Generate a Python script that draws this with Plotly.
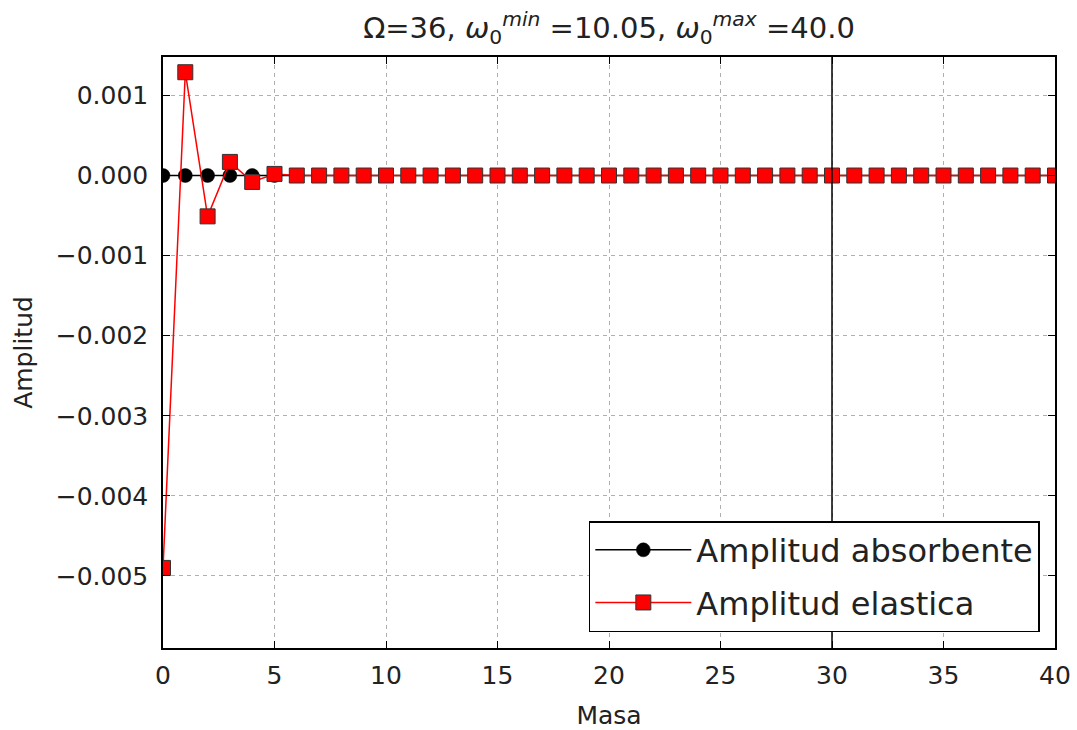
import plotly.graph_objects as go

masa = list(range(41))
amp_absorbente = [0.0] * 41
amp_elastica = [-0.0049, 0.00129, -0.00051, 0.00017, -0.00008, 0.00002] + [0.0] * 35

x_ticks = [0, 5, 10, 15, 20, 25, 30, 35, 40]
y_ticks = [-0.005, -0.004, -0.003, -0.002, -0.001, 0.0, 0.001]
vline_x = 30

font = "DejaVu Sans"

fig = go.Figure()
fig.add_trace(go.Scatter(
    x=masa, y=amp_absorbente, mode="lines+markers", name="Amplitud absorbente",
    line=dict(color="black", width=1.5),
    marker=dict(symbol="circle", size=14, color="black", line=dict(color="black", width=0.5)),
    legendgroup="a",
))
fig.add_trace(go.Scatter(
    x=masa, y=amp_elastica, mode="lines+markers", name="Amplitud elastica",
    line=dict(color="red", width=1.5),
    marker=dict(symbol="square", size=15, color="red", line=dict(color="#333333", width=1)),
    legendgroup="b",
))

fig.add_shape(type="line", x0=vline_x, x1=vline_x, y0=0, y1=1, xref="x", yref="paper",
              line=dict(color="black", width=1.5))

axis_common = dict(
    showline=True, linecolor="black", linewidth=1.5, mirror="allticks",
    ticks="inside", ticklen=7, tickwidth=1, tickcolor="black",
    showgrid=True, gridcolor="#b0b0b0", gridwidth=1, griddash="4px,4px",
    zeroline=False, automargin=False,
    tickfont=dict(family=font, size=25, color="#222222"),
)

fig.update_xaxes(range=[0, 40], tickvals=x_ticks, ticklabelstandoff=4,
                 title=dict(text="Masa", font=dict(family=font, size=25, color="#222222"), standoff=18),
                 **axis_common)
fig.update_yaxes(range=[-0.0059, 0.00148], tickvals=y_ticks, tickformat=".3f", ticklabelstandoff=8,
                 title=dict(text="Amplitud", font=dict(family=font, size=25, color="#222222"), standoff=16),
                 **axis_common)

fig.update_layout(
    width=1077, height=730,
    margin=dict(l=163, r=22, t=57, b=82),
    paper_bgcolor="white", plot_bgcolor="white",
    title=dict(
        text="Ω=36, <i>ω</i><sub>0</sub><sup><i>min</i></sup> =10.05, <i>ω</i><sub>0</sub><sup><i>max</i></sup> =40.0",
        x=0.5, xref="paper", xanchor="center", y=0.962, yanchor="middle",
        font=dict(family=font, size=29, color="#222222"),
        automargin=False,
    ),
    legend=dict(
        x=0.983, xanchor="right", y=0.027, yanchor="bottom",
        bordercolor="black", borderwidth=1.5, bgcolor="white",
        font=dict(family=font, size=32, color="#222222"),
        itemwidth=96, tracegroupgap=8, traceorder="grouped",
    ),
    showlegend=True,
)

fig.write_html("out.html")
